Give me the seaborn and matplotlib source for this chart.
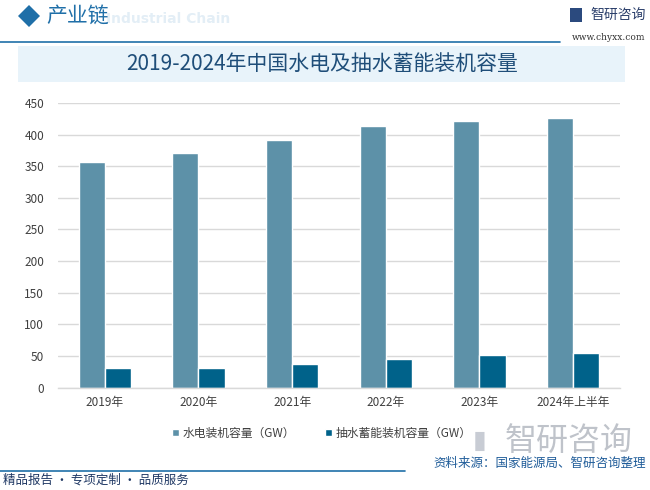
import matplotlib
matplotlib.use("Agg")
import matplotlib.pyplot as plt
import seaborn as sns
import pandas as pd
from matplotlib.patches import Rectangle, Polygon
from matplotlib.lines import Line2D

# ---- data ----
years = ["2019年", "2020年", "2021年", "2022年", "2023年", "2024年上半年"]
hydro = [356.4, 370.2, 390.9, 413.5, 421.5, 426.0]
pumped = [30.3, 31.5, 36.4, 45.8, 50.9, 54.4]
series = ["水电装机容量（GW）", "抽水蓄能装机容量（GW）"]
colors = ["#5D91A8", "#00628A"]

df = pd.DataFrame({
    "year": years * 2,
    "value": hydro + pumped,
    "series": [series[0]] * len(years) + [series[1]] * len(years),
})

sns.set_theme(style="white")
plt.rcParams["font.family"] = ["Noto Sans CJK SC", "DejaVu Sans"]

W, H = 650, 490
fig = plt.figure(figsize=(6.5, 4.9), dpi=100)
fig.patch.set_facecolor("white")

def fx(px):
    return px / W

def fy(py):
    return 1 - py / H

ax = fig.add_axes([fx(58), fy(387.5), fx(620) - fx(58), fy(103) - fy(387.5)])
sns.barplot(data=df, x="year", y="value", hue="series", palette=colors,
            width=0.56, ax=ax, saturation=1, legend=True)

ax.set_ylim(0, 450)
ax.set_yticks(range(0, 451, 50))
ax.set_xlim(-0.5, len(years) - 0.5)
ax.set_xlabel("")
ax.set_ylabel("")
ax.yaxis.grid(True, color="#D9D9D9", linewidth=1)
ax.set_axisbelow(True)
for s in ["top", "right", "left"]:
    ax.spines[s].set_visible(False)
ax.spines["bottom"].set_color("#D9D9D9")
ax.spines["bottom"].set_linewidth(1)
ax.tick_params(axis="y", length=0, labelsize=8.5, labelcolor="#404040", pad=10)
ax.tick_params(axis="x", length=0, labelsize=8.5, labelcolor="#404040", pad=6)
ax.set_xticks([i - 0.5 for i in range(len(years) + 1)], minor=True)
ax.tick_params(axis="x", which="minor", length=5, color="#D9D9D9", width=1)

handles, labels = ax.get_legend_handles_labels()
ax.get_legend().remove()
fig.legend(handles, labels, loc="center", bbox_to_anchor=(fx(322), fy(433)),
           ncol=2, frameon=False, fontsize=8.5, handlelength=0.6, handleheight=0.6,
           handletextpad=0.3, columnspacing=2.5, labelcolor="#404040")

# ---- title banner ----
fig.patches.append(Rectangle((fx(18), fy(82)), fx(625) - fx(18), fy(46) - fy(82),
                             transform=fig.transFigure, facecolor="#E8F3FA",
                             edgecolor="none", zorder=0))
fig.text(fx(322), fy(64), "2019-2024年中国水电及抽水蓄能装机容量", ha="center",
         va="center", fontsize=15, color="#1F4E79", fontweight="medium")

# ---- header ----
cx, cy, r = 29, 16, 11
fig.patches.append(Polygon([(fx(cx - r), fy(cy)), (fx(cx), fy(cy - r)),
                            (fx(cx + r), fy(cy)), (fx(cx), fy(cy + r))],
                           closed=True, transform=fig.transFigure,
                           facecolor="#1F6FA8", edgecolor="none"))
fig.text(fx(106), fy(19), "Industrial Chain", ha="left", va="center", fontsize=10,
         color="#E3EEF6", fontweight="bold", family=["DejaVu Sans"])
fig.text(fx(46), fy(16), "产业链", ha="left", va="center", fontsize=15,
         color="#1F6FA8")
fig.add_artist(Line2D([0, fx(560)], [fy(42), fy(42)], transform=fig.transFigure,
                      color="#1F6FA8", linewidth=1.2))
# logo top right
fig.patches.append(Rectangle((fx(570), fy(22)), fx(12), fy(8) - fy(22),
                             transform=fig.transFigure, facecolor="#2B4A7E",
                             edgecolor="none"))
fig.text(fx(590), fy(15), "智研咨询", ha="left", va="center", fontsize=10,
         color="#2B3F6B")
fig.text(fx(645), fy(37), "www.chyxx.com", ha="right", va="center", fontsize=6.5,
         color="#333333", family=["DejaVu Serif"])

# ---- footer ----
fig.text(fx(473), fy(441), "▮", ha="left", va="center", fontsize=18,
         color="#C8CCD4", family=["DejaVu Sans"])
fig.text(fx(505), fy(441), "智研咨询", ha="left", va="center", fontsize=23,
         color="#BFC3CA")
fig.add_artist(Line2D([0, fx(405)], [fy(471), fy(471)], transform=fig.transFigure,
                      color="#1F6FA8", linewidth=1.2))
fig.text(fx(646), fy(463), "资料来源：国家能源局、智研咨询整理", ha="right",
         va="center", fontsize=9, color="#1F5C99")
fig.text(fx(3), fy(480), "精品报告 · 专项定制 · 品质服务", ha="left", va="center",
         fontsize=9, color="#1F3864")

fig.savefig("out.png", dpi=100)
